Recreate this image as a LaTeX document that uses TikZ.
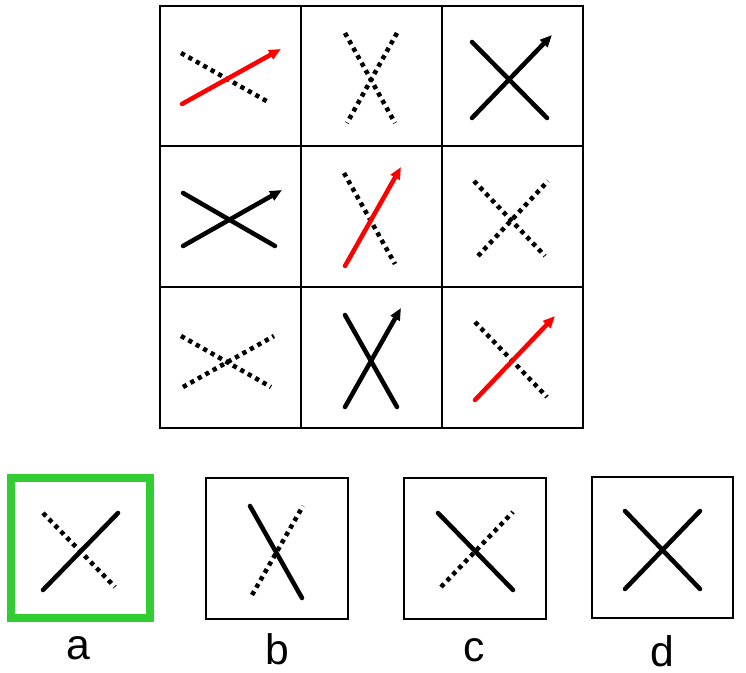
\documentclass[tikz,border=0pt]{standalone}
\usepackage{fontspec}
\setmainfont{Liberation Sans}
\usetikzlibrary{arrows.meta}
\definecolor{optgreen}{RGB}{50,205,50}
\tikzset{
  solidln/.style={line width=3.4pt, line cap=round, black},
  dotln/.style={line width=3.4pt, line cap=butt, dash pattern=on 3.2pt off 3.2pt, black},
  arr/.style={line width=3.4pt, line cap=round, -{Triangle[length=9pt,width=7.5pt]}},
  gridln/.style={line width=1.6pt, black},
  optbox/.style={line width=1.6pt, black},
  lbl/.style={anchor=base, font=\fontsize{32}{36}\selectfont}
}
\begin{document}
\begin{tikzpicture}[x=0.75pt,y=-0.75pt]
\useasboundingbox (0,0) rectangle (746,673);
% grid
\draw[gridln] (160,6) rectangle (583,428);
\draw[gridln] (301,6) -- (301,428) (442,6) -- (442,428)
  (160,146) -- (583,146) (160,287) -- (583,287);
% row 1
\draw[dotln] (181,53) -- (270,103);
\draw[arr, red] (182,104) -- (281,49);
\draw[dotln] (345,33) -- (395,123);
\draw[dotln] (397,33) -- (347,123);
\draw[solidln] (472,42) -- (547,118);
\draw[arr, black] (472,118) -- (552,35);
% row 2
\draw[solidln] (183,193) -- (275,246);
\draw[arr, black] (183,246) -- (282,190);
\draw[dotln] (344,173) -- (395,264);
\draw[arr, red] (345,266) -- (401,167);
\draw[dotln] (474,181) -- (545,256);
\draw[dotln] (478,256) -- (548,181);
% row 3
\draw[dotln] (181,336) -- (271,387);
\draw[dotln] (183,387) -- (274,336);
\draw[solidln] (345,315) -- (397,407);
\draw[arr, black] (345,407) -- (401,308);
\draw[dotln] (475,322) -- (547,397);
\draw[arr, red] (475,400) -- (555,316);
% option a
\draw[line width=6pt, optgreen] (11,478) rectangle (150,618);
\draw[dotln] (43,513) -- (115,587);
\draw[solidln] (43,590) -- (118,513);
\node[lbl] (la) at (78,659) {a};
% option b
\draw[optbox] (206,478) rectangle (348,619);
\draw[solidln] (250,506) -- (302,598);
\draw[dotln] (252,595) -- (303,506);
\node[lbl] (lb) at (277,664) {b};
% option c
\draw[optbox] (404,478) rectangle (546,619);
\draw[solidln] (438,513) -- (513,590);
\draw[dotln] (441,587) -- (513,512);
\node[lbl] (lc) at (474,661) {c};
% option d
\draw[optbox] (592,477) rectangle (733,618);
\draw[solidln] (625,511) -- (700,589);
\draw[solidln] (625,589) -- (700,511);
\node[lbl, inner sep=0pt] (ld) at (662,666) {d};
\end{tikzpicture}
\end{document}
